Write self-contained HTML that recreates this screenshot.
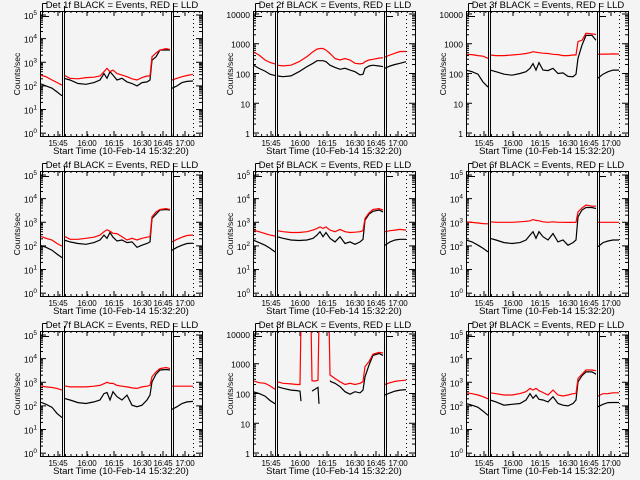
<!DOCTYPE html>
<html><head><meta charset="utf-8"><style>
html,body{margin:0;padding:0;background:#f4f4f4}
svg{display:block}
text{font-family:"Liberation Sans",sans-serif;fill:#000}
</style></head><body>
<svg id="chart" width="640" height="480" viewBox="0 0 640 480" xmlns="http://www.w3.org/2000/svg">
<rect x="0" y="0" width="640" height="480" fill="#f4f4f4"/>
</svg>
<script>
// ---- shared time grid (axis units across plot box) ----
const timesA = [0, 6, 12, 17, 22];
const timesB = [24, 30, 38, 46, 54, 60, 64, 67, 70, 73, 77, 82, 87, 92, 97, 102, 107, 110, 112, 116, 120, 126, 130];
const timesC = [132, 137, 142, 147, 153];
const timesB8 = [24, 30, 38, 44, 47, 48, 49, 58, 59, 62, 65, 66, 67, 76, 77, 78, 82, 87, 92, 97, 102, 107, 110, 112, 116, 120, 126, 130];
const tickTimes = [18, 47, 74, 102, 123, 145];
const tickLabels = ["15:45", "16:00", "16:15", "16:30", "16:45", "17:00"];
const markerTimes = [22.5, 24.5, 131.5, 133.5];
const dottedMarkerTime = 153.5;
const detNames = ["1f", "2f", "3f", "4f", "5f", "6f", "7f", "8f", "9f"];
const scaleKind = ["exp", "dec", "dec", "exp", "exp", "exp", "exp", "dec", "exp"];

// ---- counts/sec, RED = LLD, BLACK = Events ----
const p1RedA = [288, 245, 178, 140, 107];
const p1BlkA = [126, 100, 80, 56, 38];
const p1RedB = [288, 209, 200, 224, 234, 263, 398, 550, 398, 468, 331, 288, 245, 200, 178, 224, 263, 263, 1700, 2500, 3310, 3800, 3470];
const p1BlkB = [209, 178, 126, 117, 138, 178, 331, 209, 398, 288, 178, 209, 148, 126, 100, 138, 148, 178, 1230, 1700, 3310, 3310, 3310];
const p1RedC = [178, 209, 245, 275, 309];
const p1BlkC = [79, 100, 138, 155, 162];

const p2RedA = [540, 420, 285, 235, 210];
const p2BlkA = [195, 148, 120, 95, 85];
const p2RedB = [190, 180, 190, 250, 370, 540, 660, 690, 690, 610, 470, 320, 285, 320, 285, 220, 210, 220, 250, 285, 300, 330, 340];
const p2BlkB = [83, 78, 83, 115, 170, 220, 270, 270, 270, 250, 190, 160, 138, 150, 130, 115, 90, 95, 150, 178, 190, 178, 170];
const p2RedC = [360, 420, 480, 550, 550];
const p2BlkC = [150, 178, 200, 220, 250];

const p3RedA = [440, 430, 400, 380, 325];
const p3BlkA = [130, 115, 95, 52, 35];
const p3RedB = [420, 400, 400, 420, 440, 470, 500, 540, 520, 500, 480, 470, 440, 430, 400, 400, 420, 420, 1180, 1300, 2240, 2150, 2050];
const p3BlkB = [130, 115, 95, 88, 100, 115, 150, 215, 130, 230, 130, 125, 150, 100, 105, 80, 78, 95, 325, 900, 1900, 1900, 1300];
const p3RedC = [440, 450, 450, 455, 450];
const p3BlkC = [70, 95, 115, 130, 130];

const p4RedA = [263, 209, 178, 126, 98];
const p4BlkA = [107, 87, 66, 45, 32];
const p4RedB = [263, 190, 190, 209, 234, 288, 398, 480, 420, 340, 331, 245, 178, 209, 178, 209, 234, 245, 1700, 2750, 3470, 3800, 3470];
const p4BlkB = [178, 148, 126, 117, 138, 178, 288, 209, 370, 234, 162, 178, 138, 148, 87, 107, 126, 148, 1450, 2200, 3310, 3470, 3310];
const p4RedC = [148, 190, 234, 275, 290];
const p4BlkC = [66, 87, 107, 126, 130];

const p5RedA = [468, 400, 331, 288, 263];
const p5BlkA = [178, 138, 107, 79, 56];
const p5RedB = [440, 398, 370, 370, 398, 468, 550, 640, 550, 640, 468, 398, 500, 398, 370, 380, 398, 440, 1450, 2500, 3470, 3800, 3310];
const p5BlkB = [245, 209, 178, 170, 178, 209, 288, 398, 245, 370, 209, 148, 245, 126, 148, 117, 148, 190, 1230, 2200, 2900, 3310, 2750];
const p5RedC = [398, 440, 468, 500, 468];
const p5BlkC = [107, 148, 178, 190, 190];

const p6RedA = [1050, 990, 930, 880, 860];
const p6BlkA = [178, 148, 107, 79, 56];
const p6RedB = [1050, 1000, 1000, 1000, 1050, 1100, 1150, 1300, 1200, 1150, 1050, 1000, 1050, 1000, 1000, 990, 990, 1000, 2750, 4000, 5400, 4800, 4800];
const p6BlkB = [209, 178, 138, 126, 138, 178, 288, 398, 209, 398, 245, 178, 331, 148, 178, 107, 138, 178, 1700, 3310, 4200, 4200, 3800];
const p6RedC = [1000, 1000, 1000, 1000, 1000];
const p6BlkC = [93, 138, 162, 178, 178];

const p7RedA = [710, 640, 600, 550, 468];
const p7BlkA = [148, 117, 87, 48, 32];
const p7RedB = [710, 640, 640, 640, 680, 740, 870, 1000, 900, 900, 740, 680, 640, 580, 550, 640, 680, 740, 1700, 2750, 3800, 4200, 3800];
const p7BlkB = [209, 178, 138, 126, 148, 178, 331, 370, 178, 398, 245, 178, 288, 107, 93, 107, 178, 288, 1050, 2200, 3310, 3470, 3310];
const p7RedC = [680, 680, 680, 680, 680];
const p7BlkC = [72, 93, 126, 148, 155];

const p8RedA = [270, 230, 220, 180, 140];
const p8BlkA = [115, 100, 82, 58, 45];
const p8RedB = [250, 220, 210, 200, 200, 30000, 30000, 30000, 270, 260, 280, 30000, 30000, 30000, 420, 400, 320, 250, 200, 220, 200, 220, 250, 800, 1180, 2100, 2400, 2300];
const p8BlkB = [170, 150, 130, 125, 120, 55, null, null, 120, 140, 160, 45, null, null, 270, 250, 220, 170, 115, 95, 115, 105, 130, 360, 900, 1900, 2200, 1900];
const p8RedC = [200, 230, 255, 270, 280];
const p8BlkC = [90, 105, 120, 130, 135];

const p9RedA = [360, 330, 290, 245, 200];
const p9BlkA = [126, 107, 87, 60, 40];
const p9RedB = [360, 330, 290, 290, 331, 398, 550, 468, 550, 440, 370, 290, 468, 290, 263, 290, 330, 331, 1450, 2200, 3310, 3310, 3100];
const p9BlkB = [178, 148, 107, 117, 126, 178, 330, 209, 288, 190, 178, 148, 245, 126, 107, 100, 126, 178, 1050, 1900, 2750, 2750, 2200];
const p9RedC = [263, 330, 331, 360, 360];
const p9BlkC = [93, 117, 138, 140, 140];

const panels = [
  [p1RedA, p1BlkA, p1RedB, p1BlkB, p1RedC, p1BlkC],
  [p2RedA, p2BlkA, p2RedB, p2BlkB, p2RedC, p2BlkC],
  [p3RedA, p3BlkA, p3RedB, p3BlkB, p3RedC, p3BlkC],
  [p4RedA, p4BlkA, p4RedB, p4BlkB, p4RedC, p4BlkC],
  [p5RedA, p5BlkA, p5RedB, p5BlkB, p5RedC, p5BlkC],
  [p6RedA, p6BlkA, p6RedB, p6BlkB, p6RedC, p6BlkC],
  [p7RedA, p7BlkA, p7RedB, p7BlkB, p7RedC, p7BlkC],
  [p8RedA, p8BlkA, p8RedB, p8BlkB, p8RedC, p8BlkC],
  [p9RedA, p9BlkA, p9RedB, p9BlkB, p9RedC, p9BlkC]
];

const NS = "http://www.w3.org/2000/svg";
const svg = document.getElementById("chart");
function mk(tag, attrs, parent) {
  const e = document.createElementNS(NS, tag);
  for (const k in attrs) e.setAttribute(k, attrs[k]);
  (parent || svg).appendChild(e);
  return e;
}
const BOX_L = 40, BOX_T = 11, BOX_W = 162, BOX_H = 125;

panels.forEach((pd, i) => {
  const ox = (i % 3) * 213, oy = Math.floor(i / 3) * 160;
  const kind = scaleKind[i];
  const logMin = kind === "exp" ? -0.12 : -0.1;
  const logMax = kind === "exp" ? 5.17 : 4.1;
  const left = ox + BOX_L, top = oy + BOX_T, bottom = top + BOX_H, right = left + BOX_W;
  const xs = t => left + t;
  const ys = v => bottom - (Math.log10(v) - logMin) / (logMax - logMin) * BOX_H;

  const g = mk("g", {});
  
  

  const title = mk("text", {x: ox + 122, y: oy + 8, "font-size": 9.5, "text-anchor": "middle"}, g);
  title.textContent = "Det " + detNames[i] + " BLACK = Events, RED = LLD";
  
  

  const yt = mk("text", {x: 0, y: 0, "font-size": 8.5, "text-anchor": "middle", transform: `translate(${ox + 20},${oy + 74}) rotate(-90)`}, g);
  yt.textContent = "Counts/sec";
  
  

  const xt = mk("text", {x: ox + 121, y: oy + 154, "font-size": 9.5, "text-anchor": "middle"}, g);
  xt.textContent = "Start Time (10-Feb-14 15:32:20)";
  
  

  // y ticks
  const maxDec = kind === "exp" ? 5 : 4;
  for (let d = 0; d <= maxDec; d++) {
    const y = ys(Math.pow(10, d));
    mk("line", {x1: left, x2: left + 6, y1: y, y2: y, stroke: "#000"}, g);
    mk("line", {x1: right - 6, x2: right, y1: y, y2: y, stroke: "#000"}, g);
    const lab = mk("text", {x: left - 3, y: y + 4, "font-size": 8.5, "text-anchor": "end"}, g);
    if (kind === "exp") {
      lab.textContent = "10";
      const sup = mk("tspan", {dy: -4, "font-size": 6.5}, lab);
      sup.textContent = String(d);
    } else {
      lab.textContent = String(Math.pow(10, d));
    }
    
    
    for (let m = 2; m <= 9; m++) {
      const v = m * Math.pow(10, d);
      if (Math.log10(v) > logMax) break;
      const yy = ys(v);
      mk("line", {x1: left, x2: left + 3, y1: yy, y2: yy, stroke: "#000"}, g);
      mk("line", {x1: right - 3, x2: right, y1: yy, y2: yy, stroke: "#000"}, g);
    }
  }
  // x ticks
  tickTimes.forEach((t, k) => {
    const x = xs(t);
    mk("line", {x1: x, x2: x, y1: bottom, y2: bottom - 5, stroke: "#000"}, g);
    mk("line", {x1: x, x2: x, y1: top, y2: top + 5, stroke: "#000"}, g);
    const lab = mk("text", {x: x, y: oy + 146, "font-size": 8, "text-anchor": "middle", "letter-spacing": "-0.2"}, g);
    lab.textContent = tickLabels[k];
    
    
  });
  for (let t = 3; t < BOX_W; t += 5.6) {
    mk("line", {x1: xs(t), x2: xs(t), y1: bottom, y2: bottom - 2, stroke: "#000"}, g);
    mk("line", {x1: xs(t), x2: xs(t), y1: top, y2: top + 2, stroke: "#000"}, g);
  }

  // data
  const clipId = "clip" + i;
  const cp = mk("clipPath", {id: clipId}, g);
  mk("rect", {x: left, y: top, width: BOX_W, height: BOX_H}, cp);
  const tB = i === 7 ? timesB8 : timesB;
  const segs = [[timesA, pd[0], pd[1]], [tB, pd[2], pd[3]], [timesC, pd[4], pd[5]]];
  const drawSeries = (times, vals, color, name) => {
    let d = "", pen = false;
    times.forEach((t, k) => {
      const v = vals[k];
      if (v == null) { pen = false; return; }
      d += (pen ? "L" : "M") + xs(t).toFixed(1) + " " + ys(v).toFixed(1);
      pen = true;
    });
    const p = mk("path", {d: d, fill: "none", stroke: color, "stroke-width": 1.2, "clip-path": `url(#${clipId})`}, g);
    
    
  };
  segs.forEach(s => {
    drawSeries(s[0], s[2], "#000", "events-line");
    drawSeries(s[0], s[1], "#ff0000", "lld-line");
  });

  // markers
  markerTimes.forEach(t => {
    const l = mk("line", {x1: xs(t), x2: xs(t), y1: top, y2: bottom, stroke: "#000", "stroke-width": 1}, g);
    
    
  });
  const dl = mk("line", {x1: xs(dottedMarkerTime), x2: xs(dottedMarkerTime), y1: top, y2: bottom, stroke: "#000", "stroke-dasharray": "1,3"}, g);
  
  
  mk("path", {d: `M${left + 2.5} ${oy + 3.5}H${left + 7}M${left + 2.5} ${oy + 3.5}V${top + 5.5}H${left + 9}M${xs(24.5)} ${oy + 6}V${top}M${xs(133.5)} ${oy + 3}V${top + 5.5}H${xs(140)}`, fill: "none", stroke: "#000"}, g);

  const box = mk("rect", {x: left + 0.5, y: top + 0.5, width: BOX_W, height: BOX_H, fill: "none", stroke: "#000", "stroke-width": 1}, g);
  
  
});
</script>
</body></html>
